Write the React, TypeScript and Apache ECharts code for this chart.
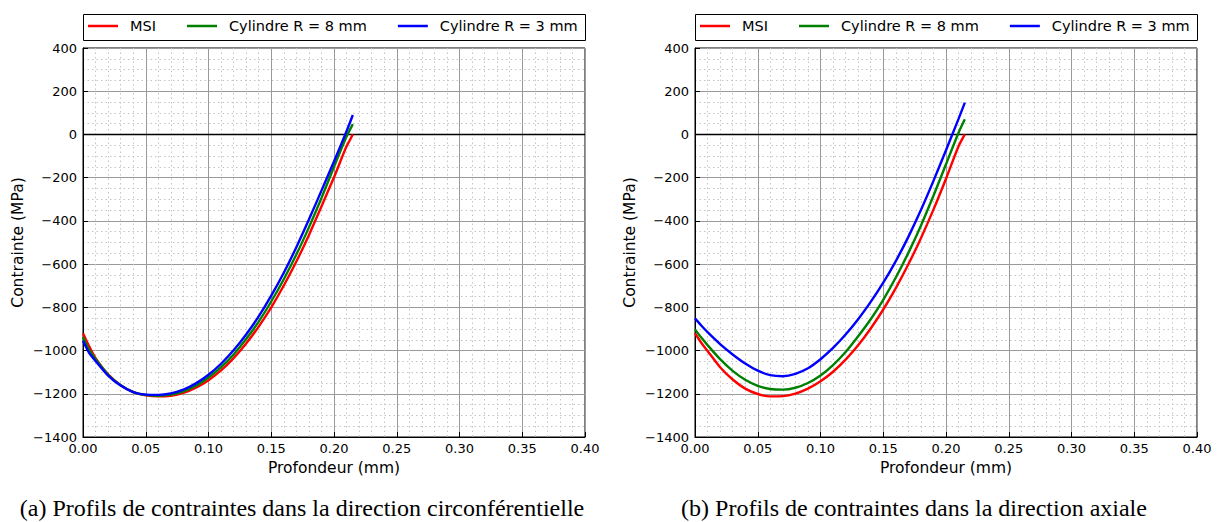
import React, { useEffect, useRef } from 'react';
import * as echarts from 'echarts';

const depth = [0, 0.005, 0.01, 0.02, 0.03, 0.04, 0.05, 0.06, 0.07, 0.08, 0.09, 0.1, 0.11, 0.12, 0.13, 0.14, 0.15, 0.16, 0.17, 0.18, 0.19, 0.2, 0.21, 0.215];

// (a) circumferential direction
const msiCirc = [-920, -982, -1035, -1110, -1160, -1192, -1207, -1212, -1209, -1196, -1172, -1137, -1092, -1035, -967, -889, -800, -699, -588, -466, -333, -198, -55, 0];
const r8Circ = [-938, -998, -1040, -1112, -1161, -1192, -1205, -1209, -1204, -1189, -1163, -1125, -1077, -1018, -947, -866, -773, -670, -556, -430, -294, -150, -10, 48];
const r3Circ = [-955, -1012, -1048, -1116, -1162, -1192, -1204, -1205, -1198, -1181, -1152, -1112, -1061, -999, -926, -842, -746, -640, -522, -394, -260, -125, 15, 90];

// (b) axial direction
const msiAx = [-920, -964, -1002, -1077, -1134, -1176, -1201, -1212, -1211, -1199, -1176, -1142, -1098, -1042, -976, -898, -810, -711, -601, -480, -348, -205, -55, 0];
const r8Ax = [-902, -940, -975, -1040, -1094, -1135, -1163, -1178, -1181, -1172, -1150, -1115, -1067, -1007, -934, -855, -765, -662, -548, -422, -284, -138, 8, 70];
const r3Ax = [-851, -884, -915, -970, -1018, -1060, -1093, -1114, -1119, -1108, -1082, -1040, -988, -926, -855, -775, -686, -586, -474, -350, -215, -73, 72, 147];

const seriesNames = ['MSI', 'Cylindre R = 8 mm', 'Cylindre R = 3 mm'];
const seriesColors = ['#ff0000', '#008000', '#0000ff'];
const captions = [
  '(a) Profils de contraintes dans la direction circonférentielle',
  '(b) Profils de contraintes dans la direction axiale',
];
const xAxisName = 'Profondeur (mm)';
const yAxisName = 'Contrainte (MPa)';

const FONT = 'DejaVu Sans';

function pairs(xs: number[], ys: number[]) {
  return xs.map((x, i) => [x, ys[i]]);
}

export default function App() {
  const ref = useRef<HTMLDivElement>(null);

  useEffect(() => {
    const chart = echarts.init(ref.current!, null, { renderer: 'svg' });
    const gridLefts = [83, 695];
    const gridTop = 48;
    const gridW = 502;
    const gridH = 389;
    const panels = [
      [msiCirc, r8Circ, r3Circ],
      [msiAx, r8Ax, r3Ax],
    ];

    const grids = gridLefts.map((l) => ({
      left: l,
      top: gridTop,
      width: gridW,
      height: gridH,
      show: true,
      borderColor: '#000',
      borderWidth: 1,
      backgroundColor: 'transparent',
    }));

    const minorStyle = { color: '#c4c4c4', width: 1, type: [1.5, 3] };
    const majorStyle = { color: '#9a9a9a', width: 1 };

    const xAxes = gridLefts.map((_, i) => ({
      gridIndex: i,
      type: 'value',
      min: 0,
      max: 0.4,
      interval: 0.05,
      name: xAxisName,
      nameLocation: 'middle',
      nameGap: 22,
      nameTextStyle: { fontSize: 15.5, color: '#000', fontFamily: FONT },
      axisLine: { show: true, onZero: false, lineStyle: { color: '#000', width: 1 } },
      axisTick: { show: true, inside: true, length: 5, lineStyle: { color: '#000' } },
      minorTick: { show: false, splitNumber: 5 },
      axisLabel: {
        fontSize: 13,
        color: '#000',
        fontFamily: FONT,
        margin: 5,
        formatter: (v: number) => v.toFixed(2),
      },
      splitLine: { show: true, lineStyle: majorStyle },
      minorSplitLine: { show: true, lineStyle: minorStyle },
    }));

    const yAxes = gridLefts.map((_, i) => ({
      gridIndex: i,
      type: 'value',
      min: -1400,
      max: 400,
      interval: 200,
      name: yAxisName,
      nameLocation: 'middle',
      nameGap: 57,
      nameTextStyle: { fontSize: 15.5, color: '#000', fontFamily: FONT },
      axisLine: { show: true, onZero: false, lineStyle: { color: '#000', width: 1 } },
      axisTick: { show: true, inside: true, length: 5, lineStyle: { color: '#000' } },
      minorTick: { show: false, splitNumber: 4 },
      axisLabel: {
        fontSize: 13,
        color: '#000',
        fontFamily: FONT,
        margin: 6,
        formatter: (v: number) => (v < 0 ? '\u2212' + Math.abs(v) : String(v)),
      },
      splitLine: { show: true, lineStyle: majorStyle },
      minorSplitLine: { show: true, lineStyle: minorStyle },
    }));

    const series: any[] = [];
    panels.forEach((vals, gi) => {
      vals.forEach((ys, si) => {
        const s: any = {
          name: seriesNames[si],
          type: 'line',
          xAxisIndex: gi,
          yAxisIndex: gi,
          data: pairs(depth, ys),
          showSymbol: false,
          symbol: 'none',
          smooth: 0.25,
          color: seriesColors[si],
          lineStyle: { color: seriesColors[si], width: 2.4 },
          z: 3 + si,
        };
        if (si === 0) {
          s.markLine = {
            silent: true,
            symbol: 'none',
            label: { show: false },
            lineStyle: { color: '#000', width: 1.3, type: 'solid' },
            data: [{ yAxis: 0 }],
            z: 2,
          };
        }
        series.push(s);
      });
    });

    const legends = gridLefts.map((l) => ({
      left: l + 5,
      top: 18.5,
      padding: 0,
      data: seriesNames,
      icon: 'rect',
      itemWidth: 30,
      itemHeight: 2.5,
      itemGap: 31,
      selectedMode: false,
      textStyle: { fontSize: 14.5, color: '#000', fontFamily: FONT, padding: [0, 0, 0, 7] },
    }));

    const graphics: any[] = [];
    gridLefts.forEach((l, i) => {
      graphics.push({
        type: 'rect',
        shape: { x: l + 0.5, y: 14.5, width: gridW, height: 26 },
        style: { fill: 'none', stroke: '#000', lineWidth: 1 },
        z: 1,
      });
      graphics.push({
        type: 'text',
        x: l + gridW / 2 - 32,
        y: 508,
        style: {
          text: captions[i],
          font: '24px "Liberation Serif", "Times New Roman", serif',
          fill: '#000',
          textAlign: 'center',
          textVerticalAlign: 'middle',
        },
      });
    });

    chart.setOption({
      animation: false,
      backgroundColor: '#fff',
      textStyle: { fontFamily: FONT },
      grid: grids,
      xAxis: xAxes,
      yAxis: yAxes,
      legend: legends,
      series,
      graphic: graphics,
    });

    return () => chart.dispose();
  }, []);

  return (
    <div
      ref={ref}
      style={{ position: 'fixed', left: 0, top: 0, width: 1218, height: 522, background: '#fff' }}
    />
  );
}
